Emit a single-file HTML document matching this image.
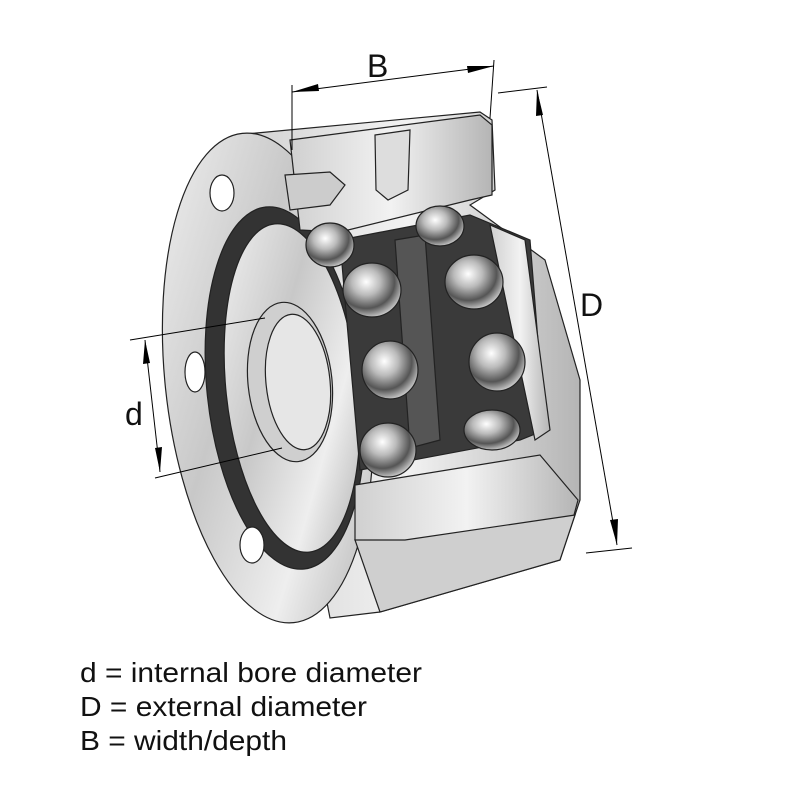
<!DOCTYPE html>
<html><head><meta charset="utf-8"><style>
html,body{margin:0;padding:0;background:#fff;width:800px;height:800px;overflow:hidden}
svg{display:block}
</style></head><body>
<svg width="800" height="800" viewBox="0 0 800 800" xmlns="http://www.w3.org/2000/svg">
<defs>
<linearGradient id="metal" x1="0" y1="0" x2="1" y2="1">
<stop offset="0" stop-color="#f4f4f4"/><stop offset="0.4" stop-color="#c8c8c8"/><stop offset="0.7" stop-color="#eeeeee"/><stop offset="1" stop-color="#a8a8a8"/>
</linearGradient>
<linearGradient id="metal2" x1="0" y1="0" x2="1" y2="0">
<stop offset="0" stop-color="#d0d0d0"/><stop offset="0.5" stop-color="#f2f2f2"/><stop offset="1" stop-color="#b5b5b5"/>
</linearGradient>
<radialGradient id="ball" cx="0.4" cy="0.35" r="0.7">
<stop offset="0" stop-color="#fff"/><stop offset="0.35" stop-color="#bbb"/><stop offset="0.7" stop-color="#555"/><stop offset="1" stop-color="#ddd"/>
</radialGradient>
</defs>
<g stroke="#222" stroke-width="1.2">
<!-- body cylinder -->
<path d="M235 135 L480 112 L492 120 L495 190 L470 205 L545 260 L580 380 L580 500 L560 560 L380 612 L330 618 Z" fill="url(#metal2)"/>
<!-- flange -->
<ellipse cx="268" cy="378" rx="103" ry="246" fill="url(#metal)" transform="rotate(-6 268 378)"/>
<!-- inner dark ring -->
<ellipse cx="285" cy="388" rx="78" ry="182" fill="#333" transform="rotate(-6 285 388)"/>
<ellipse cx="292" cy="388" rx="66" ry="165" fill="url(#metal)" transform="rotate(-6 292 388)"/>
<!-- bore -->
<ellipse cx="290" cy="382" rx="42" ry="80" fill="#cfcfcf" transform="rotate(-6 290 382)"/>
<ellipse cx="298" cy="382" rx="32" ry="68" fill="#e6e6e6" transform="rotate(-6 298 382)"/>
<!-- holes -->
<ellipse cx="222" cy="193" rx="12" ry="18" fill="#fff"/>
<ellipse cx="195" cy="372" rx="10" ry="20" fill="#fff"/>
<ellipse cx="252" cy="545" rx="12" ry="18" fill="#fff"/>
<!-- cut-away interior -->
<path d="M340 240 L470 215 L530 240 L545 430 L520 440 L360 470 L345 300 Z" fill="#3a3a3a"/>
<path d="M395 240 L425 235 L440 440 L410 448 Z" fill="#555"/>
<path d="M490 225 L525 240 L550 430 L535 440 Z" fill="url(#metal2)"/>
<!-- top block -->
<path d="M290 140 L480 115 L492 125 L492 195 L470 200 L340 232 L300 230 Z" fill="url(#metal2)"/>
<path d="M375 135 L410 130 L408 190 L388 200 L376 190 Z" fill="#ddd"/>
<path d="M285 175 L330 172 L345 185 L330 205 L290 210 Z" fill="#ccc"/>
<!-- bottom cutaway sleeve -->
<path d="M355 485 L540 455 L578 500 L570 530 L405 555 L355 540 Z" fill="url(#metal2)"/>
<path d="M355 540 L405 540 L575 515 L560 560 L380 612 Z" fill="#cfcfcf"/>
<!-- balls -->
<ellipse cx="330" cy="245" rx="24" ry="22" fill="url(#ball)"/>
<ellipse cx="440" cy="226" rx="24" ry="20" fill="url(#ball)"/>
<ellipse cx="372" cy="290" rx="29" ry="27" fill="url(#ball)"/>
<ellipse cx="474" cy="282" rx="29" ry="27" fill="url(#ball)"/>
<ellipse cx="390" cy="370" rx="28" ry="29" fill="url(#ball)"/>
<ellipse cx="497" cy="362" rx="28" ry="29" fill="url(#ball)"/>
<ellipse cx="388" cy="450" rx="28" ry="27" fill="url(#ball)"/>
<ellipse cx="492" cy="430" rx="28" ry="20" fill="url(#ball)"/>
</g>
<!-- dimension lines -->
<g stroke="#000" stroke-width="1" fill="none">
<line x1="292" y1="85" x2="292" y2="150"/>
<line x1="494" y1="60" x2="490" y2="118"/>
<line x1="292" y1="92" x2="494" y2="66"/>
<line x1="498" y1="93" x2="547" y2="87"/>
<line x1="586" y1="553" x2="632" y2="548"/>
<line x1="537" y1="90" x2="617" y2="545"/>
<line x1="130" y1="340" x2="265" y2="318"/>
<line x1="155" y1="478" x2="282" y2="448"/>
<line x1="145" y1="340" x2="160" y2="472"/>
</g>
<g fill="#000">
<polygon points="292,92 318,84 319,91"/>
<polygon points="494,66 467,66 468,73"/>
<polygon points="537,90 536,116 543,115"/>
<polygon points="617,545 610,520 618,519"/>
<polygon points="145,340 143,364 150,363"/>
<polygon points="160,472 155,448 162,447"/>
</g>
<g font-family="'Liberation Sans', sans-serif" fill="#111">
<text x="367" y="77" font-size="32">B</text>
<text x="580" y="316" font-size="32">D</text>
<text x="125" y="425" font-size="32">d</text>
<text x="80" y="682" font-size="28" textLength="342" lengthAdjust="spacingAndGlyphs">d = internal bore diameter</text>
<text x="80" y="716" font-size="28" textLength="287" lengthAdjust="spacingAndGlyphs">D = external diameter</text>
<text x="80" y="750" font-size="28" textLength="207" lengthAdjust="spacingAndGlyphs">B = width/depth</text>
</g>
</svg>
</body></html>
